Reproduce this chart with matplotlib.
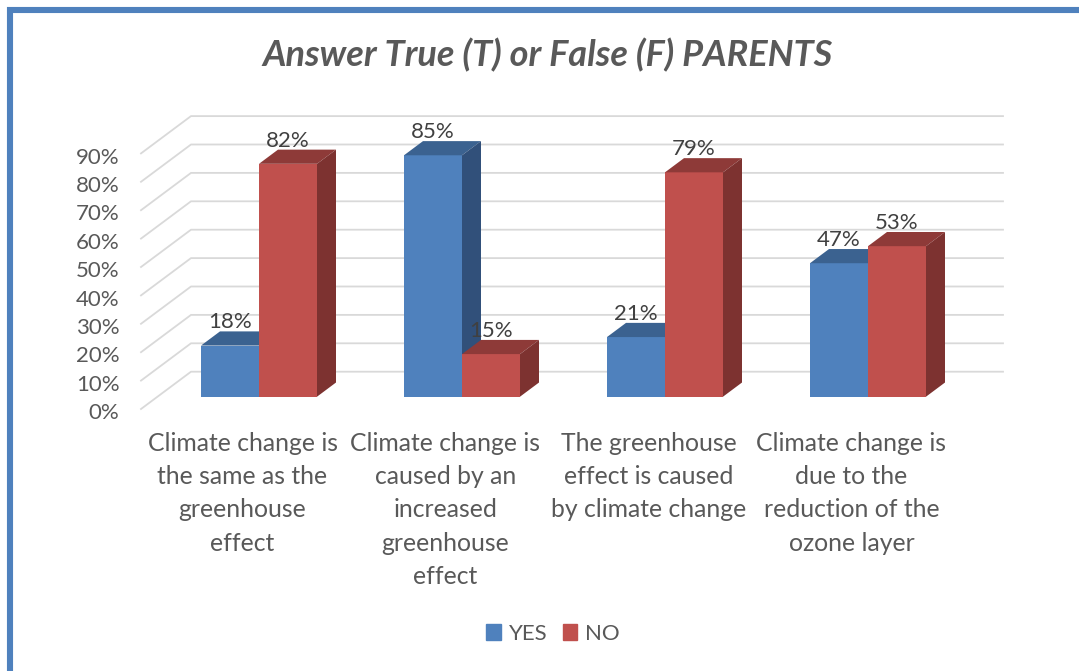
import matplotlib
matplotlib.use('Agg')
import matplotlib.pyplot as plt
from matplotlib.patches import Patch, Rectangle
from matplotlib.transforms import ScaledTranslation

plt.rcParams['font.family'] = ['Lato', 'DejaVu Sans']

categories = [
    'Climate change is\nthe same as the\ngreenhouse\neffect',
    'Climate change is\ncaused by an\nincreased\ngreenhouse\neffect',
    'The greenhouse\neffect is caused\nby climate change',
    'Climate change is\ndue to the\nreduction of the\nozone layer',
]
yes_values = [18, 85, 21, 47]
no_values = [82, 15, 79, 53]
y_ticks = [0, 10, 20, 30, 40, 50, 60, 70, 80, 90]

W, H = 1079, 671
GREY = '#595959'
GRID = '#d9d9d9'

fig = plt.figure(figsize=(W / 100, H / 100), dpi=100, facecolor='white')
ax = fig.add_axes([141 / W, 1 - 409 / H, 812 / W, 255.6 / H])
ax.set_xlim(-0.5, 3.5)
ax.set_ylim(0, 90)

# fake 3d: depth 1 is the back wall, in data units
depth_x = 50 / 203
depth_y = 37.3 / 2.84
bar_front = 0.33
bar_back = 0.71
bar_w = 58 / 203


def shifted(x, y, d):
    return x + depth_x * d, y + depth_y * d


# gridlines, side wall then back wall
for v in y_ticks:
    x0, y0 = shifted(-0.5, v, 0)
    x1, y1 = shifted(-0.5, v, 1)
    x2, y2 = shifted(3.5, v, 1)
    ax.plot([x0, x1, x2], [y0, y1, y2], color=GRID, lw=1.3, clip_on=False, zorder=1)


def draw_bar(x, value, front, top, side, z):
    fx, base = shifted(x, 0, bar_front)
    bx, back_base = shifted(x, 0, bar_back)
    dx = bx - fx
    dy = back_base - base
    left = fx
    right = fx + bar_w
    peak = base + value
    ax.bar(left, value, bar_w, bottom=base, align='edge', color=front, clip_on=False, zorder=z)
    ax.fill([left, right, right + dx, left + dx], [peak, peak, peak + dy, peak + dy],
            color=top, lw=0, clip_on=False, zorder=z)
    ax.fill([right, right + dx, right + dx, right], [base, base + dy, peak + dy, peak],
            color=side, lw=0, clip_on=False, zorder=z)
    # value label
    ax.text(left + bar_w / 2, peak + dy + 3.2, f'{value}%', ha='center', va='center',
            fontsize=16, color='#404040', zorder=10)


for i in range(len(categories)):
    draw_bar(i - bar_w, yes_values[i], '#4f81bd', '#3b6290', '#31507a', 2 + i * 2)
    draw_bar(i, no_values[i], '#c0504d', '#8e3a38', '#7d3230', 3 + i * 2)

ax.set_xticks(range(len(categories)))
ax.set_xticklabels(categories, fontsize=17.8, color=GREY, linespacing=1.54)
ax.set_yticks(y_ticks)
ax.set_yticklabels([f'{v}%' for v in y_ticks], fontsize=16, color=GREY)
ax.tick_params(axis='x', length=0, pad=16.5)
ax.tick_params(axis='y', length=0, pad=15.5)
# y labels sit a little under their lines
nudge = ScaledTranslation(0, -1.6 / 72, fig.dpi_scale_trans)
for label in ax.get_yticklabels():
    label.set_transform(label.get_transform() + nudge)
for s in ax.spines.values():
    s.set_visible(False)

fig.text(548 / W, 1 - 55 / H, 'Answer True (T) or False (F) PARENTS', ha='center', va='center',
         fontsize=26, fontweight='bold', fontstyle='italic', color=GREY)

ax.legend(handles=[Patch(color='#4f81bd', label='YES'), Patch(color='#c0504d', label='NO')],
          loc='center', bbox_to_anchor=(553 / W, 1 - 634 / H), bbox_transform=fig.transFigure,
          ncols=2, frameon=False, fontsize=16, labelcolor=GREY,
          handlelength=0.66, handleheight=0.7, handletextpad=0.35, columnspacing=0.7)

# blue frame, runs off the right and bottom of the picture
fig.add_artist(Rectangle((10 / W, -0.1), 1.2, 1.1 - 10 / H, transform=fig.transFigure,
                         fill=False, ec='#4f81bd', lw=4.4))

fig.savefig('out.png', dpi=100)
